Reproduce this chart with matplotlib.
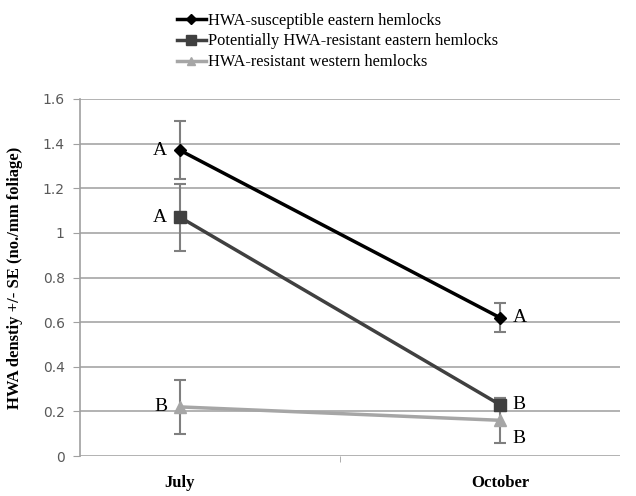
import matplotlib
matplotlib.use("Agg")
import matplotlib.pyplot as plt
from matplotlib.ticker import FixedLocator

months = ["July", "October"]
series_names = ["HWA-susceptible eastern hemlocks",
                "Potentially HWA-resistant eastern hemlocks",
                "HWA-resistant western hemlocks"]
susceptible = [1.37, 0.62]
susceptible_se = [0.13, 0.065]
potential = [1.07, 0.23]
potential_se = [0.15, 0.03]
western = [0.22, 0.16]
western_se = [0.12, 0.10]
letters_susceptible = ["A", "A"]
letters_potential = ["A", "B"]
letters_western = ["B", "B"]
yticks = [0, 0.2, 0.4, 0.6, 0.8, 1, 1.2, 1.4, 1.6]
ytick_labels = ["0", "0.2", "0.4", "0.6", "0.8", "1", "1.2", "1.4", "1.6"]

fig = plt.figure(figsize=(6.36, 4.96), dpi=100)
ax = fig.add_axes([80/636, 1-456/496, 540/636, (456-99)/496])

x = [0, 1]
serif = "Liberation Serif"
err_color = "#7f7f7f"

styles = [
    (susceptible, susceptible_se, "black", "D", 6, series_names[0], 5),
    (potential, potential_se, "#404040", "s", 9, series_names[1], 4),
    (western, western_se, "#a6a6a6", "^", 8, series_names[2], 3),
]
handles = []
for vals, se, col, mk, ms, name, z in styles:
    ax.errorbar(x, vals, yerr=se, fmt="none", ecolor=err_color, elinewidth=1.5,
                capsize=4, capthick=1.5, zorder=2)
    h, = ax.plot(x, vals, color=col, marker=mk, markersize=ms, linewidth=2.5,
                 label=name, zorder=z)
    handles.append(h)

# significance letters
ax.text(-0.04, susceptible[0], letters_susceptible[0], ha="right", va="center",
        fontsize=14, family=serif)
ax.text(-0.04, potential[0], letters_potential[0], ha="right", va="center",
        fontsize=14, family=serif)
ax.text(-0.04, western[0], letters_western[0], ha="right", va="center",
        fontsize=14, family=serif)
ax.text(1.04, susceptible[1], letters_susceptible[1], ha="left", va="center",
        fontsize=14, family=serif)
ax.text(1.04, potential[1], letters_potential[1], ha="left", va="center",
        fontsize=14, family=serif)
ax.text(1.04, western[1] - 0.08, letters_western[1], ha="left", va="center",
        fontsize=14, family=serif)

ax.set_xlim(-0.3125, 1.375)
ax.set_ylim(0, 1.6)
ax.set_yticks(yticks)
ax.set_yticklabels(ytick_labels, color="#595959", fontsize=10)
ax.set_xticks(x)
ax.set_xticklabels(months, fontsize=12, fontweight="bold", family=serif)
ax.tick_params(axis="x", length=0, pad=14)
ax.xaxis.set_minor_locator(FixedLocator([0.5]))
ax.tick_params(axis="x", which="minor", length=4, color="#a0a0a0")
ax.tick_params(axis="y", length=5, color="#a0a0a0", pad=6)

ax.yaxis.grid(True, color="#a6a6a6", linewidth=1.2)
ax.set_axisbelow(True)
for s in ["top", "right", "bottom"]:
    ax.spines[s].set_visible(False)
ax.spines["left"].set_color("#a0a0a0")
ax.spines["left"].set_linewidth(1.2)

ax.set_ylabel("HWA denstiy +/- SE (no./mm foliage)", fontsize=12,
              fontweight="bold", family=serif, labelpad=14)

fig.legend(handles=handles, loc="upper left", bbox_to_anchor=(170/636, 1-6/496),
           frameon=False, prop={"family": serif, "size": 11.8},
           handlelength=1.8, handletextpad=0.1, labelspacing=0.3,
           borderaxespad=0, markerscale=0.8)

fig.savefig("out.png", dpi=100)
